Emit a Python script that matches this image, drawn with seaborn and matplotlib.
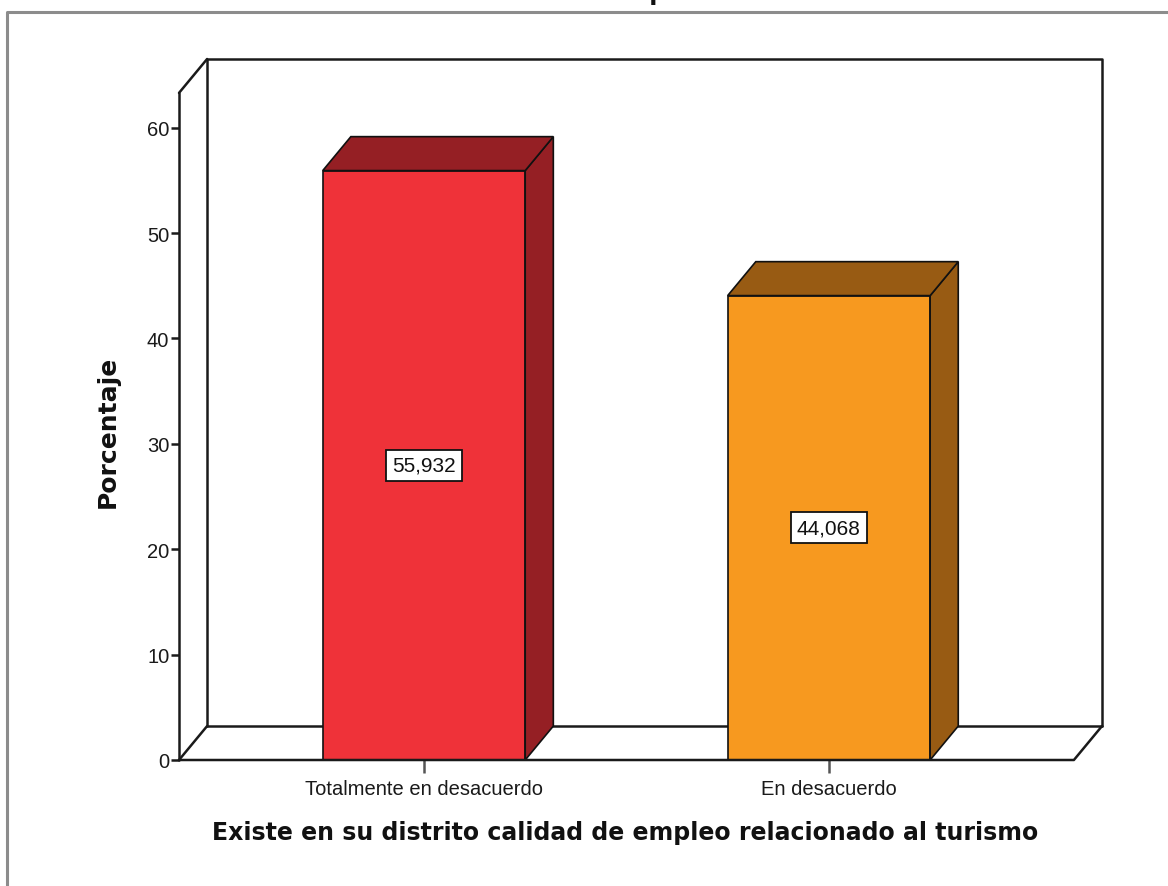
import matplotlib
matplotlib.use("Agg")
import matplotlib.pyplot as plt
from matplotlib.patches import Polygon
from matplotlib.lines import Line2D
import seaborn as sns
import pandas as pd

# Data
categories = ["Totalmente en desacuerdo", "En desacuerdo"]
percentages = [55.932, 44.068]
value_labels = ["55,932", "44,068"]
y_ticks = [0, 10, 20, 30, 40, 50, 60]
axis_title_x = "Existe en su distrito calidad de empleo relacionado al turismo"
axis_title_y = "Porcentaje"

front_colors = ["#EF3239", "#F7991F"]
dark_colors = ["#951F24", "#985B13"]

sns.set_theme(style="white")
plt.rcParams["font.family"] = ["Liberation Sans", "DejaVu Sans"]

W, H = 1168, 887
fig = plt.figure(figsize=(W / 100, H / 100), dpi=100)

# 3D box geometry (category units on x, percent on y)
x0, x1 = -0.605, 1.605        # front floor edge
y_top = 63.3                  # top of front vertical axis
dx, dy = 0.0694, 3.22         # depth offset
bar_w = 0.5

# axes frame spans the front-left axis to the back-right corner
left_px, right_px, bottom_px, top_px = 179, 1102, 761, 60
ax = fig.add_axes([left_px / W, 1 - bottom_px / H,
                   (right_px - left_px) / W, (bottom_px - top_px) / H])

df = pd.DataFrame({"cat": categories, "pct": percentages})
sns.barplot(data=df, x="cat", y="pct", hue="cat", palette=front_colors,
            saturation=1, width=bar_w, edgecolor="#111111", linewidth=1.2,
            legend=False, ax=ax, zorder=3)

ax.set_xlim(x0, x1 + dx)
ax.set_ylim(0, y_top + dy)
for s in ax.spines.values():
    s.set_visible(False)

line_kw = dict(color="#1a1a1a", lw=1.8, clip_on=False, solid_capstyle="round")

# back wall
ax.add_line(Line2D([x0 + dx, x0 + dx, x1 + dx, x1 + dx],
                   [dy, y_top + dy, y_top + dy, dy], zorder=1, **line_kw))
# floor back edge
ax.add_line(Line2D([x0 + dx, x1 + dx], [dy, dy], zorder=1, **line_kw))
# left wall: front vertical and diagonals
ax.add_line(Line2D([x0, x0], [0, y_top], zorder=5, **line_kw))
ax.add_line(Line2D([x0, x0 + dx], [y_top, y_top + dy], zorder=1, **line_kw))
ax.add_line(Line2D([x0, x0 + dx], [0, dy], zorder=1, **line_kw))
# floor front edge and right diagonal
ax.add_line(Line2D([x0, x1, x1 + dx], [0, 0, dy], zorder=5, **line_kw))

# top and side faces of each bar
for i, (v, dc) in enumerate(zip(percentages, dark_colors)):
    l, r = i - bar_w / 2, i + bar_w / 2
    top = Polygon([(l, v), (l + dx, v + dy), (r + dx, v + dy), (r, v)],
                  closed=True, facecolor=dc, edgecolor="#111111", lw=1.2,
                  zorder=3)
    side = Polygon([(r, 0), (r, v), (r + dx, v + dy), (r + dx, dy)],
                   closed=True, facecolor=dc, edgecolor="#111111", lw=1.2,
                   zorder=3)
    ax.add_patch(side)
    ax.add_patch(top)
    ax.text(i, v / 2, value_labels[i], ha="center", va="center",
            fontsize=15, color="#111111", zorder=6,
            bbox=dict(boxstyle="square,pad=0.28", facecolor="white",
                      edgecolor="#111111", lw=1.3))

# ticks
ax.set_yticks(y_ticks)
ax.set_yticklabels([str(t) for t in y_ticks])
ax.set_xticks(range(len(categories)))
ax.set_xticklabels(categories)
ax.tick_params(axis="y", direction="out", length=6, width=1.8,
               color="#1a1a1a", labelsize=14.5, labelcolor="#1a1a1a",
               left=True, pad=1)
ax.tick_params(axis="x", direction="out", length=9, width=1.8,
               color="#555555", labelsize=14.5, labelcolor="#1a1a1a",
               bottom=True, pad=5)

# axis titles
ax.set_xlabel(axis_title_x, fontsize=17, fontweight="bold",
              family="DejaVu Sans", color="#111111")
ax.xaxis.set_label_coords((625 - left_px) / (right_px - left_px),
                          (bottom_px - 833) / (bottom_px - top_px))
ax.xaxis.label.set_va("center")
ax.set_ylabel(axis_title_y, fontsize=18, fontweight="bold",
              family="DejaVu Sans", color="#111111")
ax.yaxis.set_label_coords((108 - left_px) / (right_px - left_px),
                          (bottom_px - 432) / (bottom_px - top_px))
ax.yaxis.label.set_va("center")

# chart title sits above the visible frame
fig.text(0.515, 1.0, axis_title_x, ha="center", va="baseline",
         fontsize=17, fontweight="bold", family="DejaVu Sans", color="#111111")

# outer frame
fig.add_artist(Line2D([7 / W, 7 / W, 1.0], [0.0, 1 - 13 / H, 1 - 13 / H],
                      transform=fig.transFigure, color="#8c8c8c", lw=2.2))

fig.savefig("out.png", dpi=100)
